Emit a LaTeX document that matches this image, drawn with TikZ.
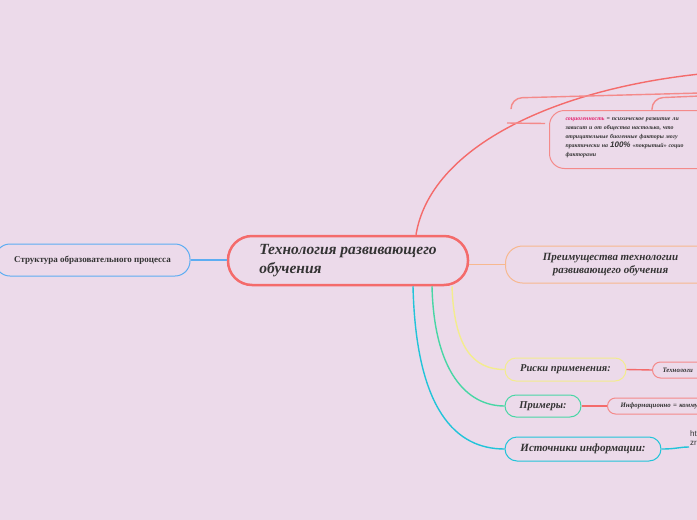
\documentclass[tikz,border=0pt]{standalone}
\usepackage{fontspec}
\setmainfont{Liberation Serif}
\newfontfamily\sansfam{Liberation Sans}
\usetikzlibrary{positioning}

\definecolor{bgpink}{HTML}{ECDAEA}
\definecolor{textdark}{HTML}{333333}
\definecolor{mapred}{HTML}{F46B6B}
\definecolor{softred}{HTML}{F48A8A}
\definecolor{mappink}{HTML}{E2246E}
\definecolor{mapblue}{HTML}{5DADF2}
\definecolor{maporange}{HTML}{F7B88F}
\definecolor{mapyellow}{HTML}{F3EC8E}
\definecolor{mapgreen}{HTML}{48D6A5}
\definecolor{mapcyan}{HTML}{22C4D9}

\tikzset{
  topic/.style={draw, line width=1pt, text=textdark, font=\fontsize{11}{13}\selectfont\bfseries\itshape},
  leafbox/.style={draw=softred, line width=1pt, rounded corners=8pt, minimum height=16pt, text=textdark,
    align=left, font=\fontsize{6.8}{8}\selectfont\bfseries\itshape},
  branch/.style={line width=1.4pt},
}

\begin{document}
\begin{tikzpicture}[x=1pt, y=-1pt]
	\useasboundingbox (0,0) rectangle (697,520);
	\fill[bgpink] (0,0) rectangle (697,520);
	\clip (0,0) rectangle (697,520);
	% central topic
	\node[topic, draw=mapred, line width=2.5pt, rounded corners=24pt, minimum width=240pt, minimum height=49pt,
		align=left, font=\fontsize{15.5}{19}\selectfont\bfseries\itshape] (core) at (348,260.5) {Технология развивающего\\обучения};
	% left
	\node[topic, draw=mapblue, rounded corners=15pt, minimum width=195pt, minimum height=32pt,
		font=\fontsize{9}{10}\selectfont\bfseries] (struct) at (92.5,260) {Структура образовательного процесса};
	% right side
	\node[topic, draw=maporange, rounded corners=17pt, minimum width=210pt, minimum height=37pt, align=center,
		anchor=west] (adv) at (505,264.5) {Преимущества технологии\\развивающего обучения};
	\node[topic, draw=mapyellow, rounded corners=11pt, minimum width=121pt, minimum height=23pt,
		font=\fontsize{10.5}{12}\selectfont\bfseries\itshape] (risk) at (565.5,369.5) {Риски применения:};
	\node[topic, draw=mapgreen, rounded corners=11pt, minimum width=76pt, minimum height=22pt,
		font=\fontsize{10.5}{12}\selectfont\bfseries\itshape] (examp) at (543,406) {Примеры:};
	\node[topic, draw=mapcyan, rounded corners=12pt, minimum width=156pt, minimum height=24pt] (sources) at (583,449) {Источники информации:};
	\node[leafbox, anchor=west, text width=90pt, inner xsep=10pt] (tech) at (652,370) {Технологи};
	\node[leafbox, anchor=west, text width=110pt, inner xsep=13pt] (info) at (607,406) {Информационно = комму};
	\node[anchor=south west, inner sep=1pt, align=left, text=textdark, font=\sansfam\fontsize{8}{9}\selectfont] (link) at (689,447) {ht\\zr};
	% top branch
	\node[leafbox, anchor=north west, rounded corners=15pt, text width=190pt, inner xsep=16pt, minimum height=58pt,
		font=\fontsize{5.9}{9}\selectfont\bfseries\itshape] (socio) at (549,110)
		{{\color{mappink}социогенность} = психическое развитие ли\\
		 зависит и от общества настолько, что\\
		 отрицательные биогенные факторы могу\\
		 практически на {\sansfam\bfseries\fontsize{8}{9}\selectfont 100\%} «покрытый» социо\\
		 факторами\\[-4pt]\mbox{}};
	\coordinate (farmain) at (700,74);
	\coordinate (fara) at (700,93);
	\coordinate (farb) at (700,96);
	\coordinate (stub) at (507,123);
	\coordinate (hooka) at (511,108);
	% connectors
	\draw[branch, mapblue] (struct.east) -- (struct.east -| core.west);
	\draw[branch, maporange] (core.east |- adv.west) -- (adv.west);
	\draw[branch, mapyellow] ([xshift=104pt]core.south) .. controls +(2,60) and +(-32,0) .. (risk.west);
	\draw[branch, mapgreen] ([xshift=84pt]core.south) .. controls +(2,85) and +(-38,0) .. (examp.west);
	\draw[branch, mapcyan] ([xshift=65pt]core.south) .. controls +(3,125) and +(-48,0) .. (sources.west);
	\draw[branch, mapred] (risk.east) -- (tech.west);
	\draw[branch, mapred] (examp.east) -- (info.west);
	\draw[branch, mapcyan] (sources.east) .. controls +(15,0) and +(-10,0) .. (link.south west);
	\draw[branch, mapred] ([xshift=68pt]core.north) .. controls +(14,-86) and +(-150,16) .. (farmain);
	\draw[branch, softred, rounded corners=11pt] (hooka) -- (511,98) -- (fara);
	\draw[branch, softred, rounded corners=11pt] ([xshift=103pt]socio.north west) -- (652,98) -- (farb);
	\draw[branch, softred] (stub) -- ([shift={(-4pt,16pt)}]socio.west);
\end{tikzpicture}
\end{document}
